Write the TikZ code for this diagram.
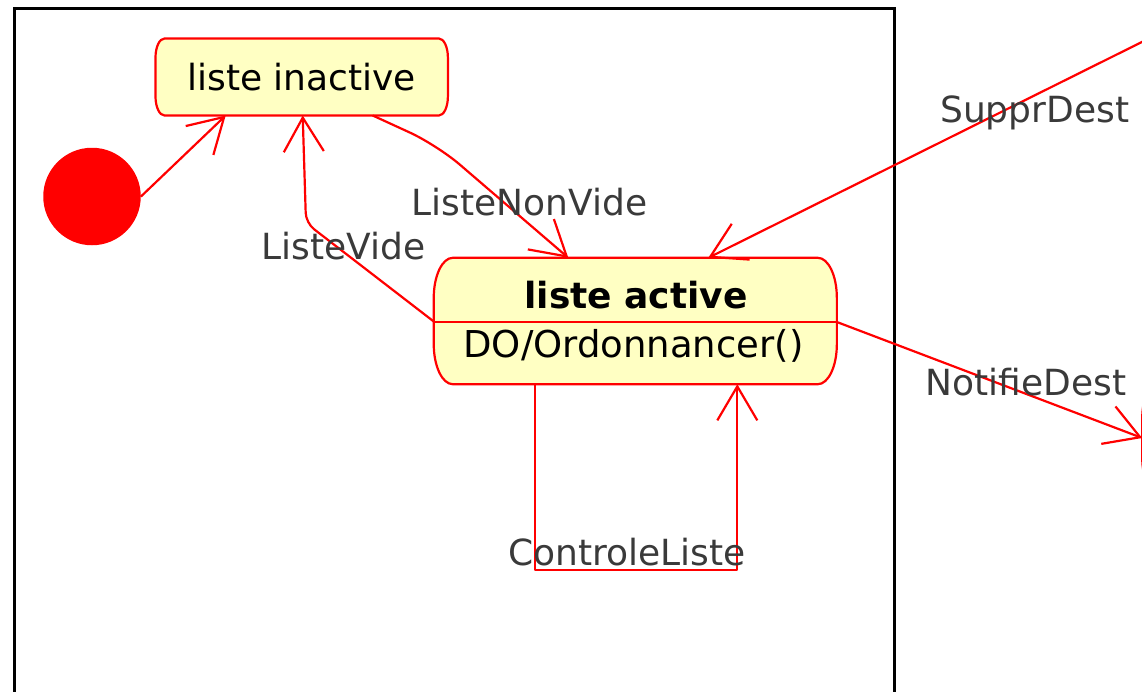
\documentclass[tikz,border=0pt]{standalone}
\usepackage{fontspec}
\setmainfont{DejaVu Sans}
\usetikzlibrary{arrows.meta,calc}

\definecolor{statefill}{RGB}{255,255,195}
\definecolor{labelink}{RGB}{58,58,58}

\tikzset{
  stateanchor/.style={rectangle, draw=none, fill=none, inner sep=0pt},
  stateedge/.style={draw=red, line width=2.2pt, fill=statefill},
  trans/.style={draw=red, line width=2.2pt, line join=round,
    -{Straight Barb[length=34pt,width=40pt,line width=2.2pt]}},
  statetext/.style={inner sep=0pt, text=black},
  translabel/.style={inner sep=0pt, anchor=base west, text=labelink},
  frameedge/.style={draw=black, line width=3pt},
}

% outline of a UML state: rectangle with elliptical corners
\newcommand\stateoutline[3]{%
  \path[stateedge] ([xshift=#2]#1.north west) -- ([xshift=-#2]#1.north east)
    arc[start angle=90, end angle=0, x radius=#2, y radius=#3]
    -- ([yshift=#3]#1.south east)
    arc[start angle=0, end angle=-90, x radius=#2, y radius=#3]
    -- ([xshift=#2]#1.south west)
    arc[start angle=-90, end angle=-180, x radius=#2, y radius=#3]
    -- ([yshift=-#3]#1.north west)
    arc[start angle=180, end angle=90, x radius=#2, y radius=#3] -- cycle;}

\begin{document}
\begin{tikzpicture}[x=1pt, y=-1pt, font=\fontsize{36}{43}\selectfont]
\useasboundingbox (0,0) rectangle (1142,691);
\fill[white] (0,0) rectangle (1142,691);
\clip (0,0) rectangle (1142,691);

% composite state boundary
\draw[frameedge] (14.7,720) -- (14.7,8) -- (894.5,8) -- (894.5,720);

% initial pseudo-state
\node[circle, fill=red, minimum size=97.5pt, inner sep=0pt] (init) at (92,196.5) {};

% state frames
\node[stateanchor, minimum width=292pt, minimum height=76.6pt] (inact) at (301.7,77) {};
\node[stateanchor, minimum width=402.7pt, minimum height=126pt] (act) at (635.3,321) {};
\node[stateanchor, minimum width=300pt, minimum height=118pt, anchor=west] (dest) at (1142.2,438) {};

\stateoutline{inact}{9pt}{19pt}
\stateoutline{act}{19pt}{40pt}
\stateoutline{dest}{19pt}{40pt}
\draw[red, line width=2.2pt] ([yshift=-1pt]act.west) -- ([yshift=-1pt]act.east);

% state texts
\node[statetext] (inactname) at (inact.center) {liste inactive};
\node[statetext, anchor=base, font=\fontsize{36}{43}\selectfont\bfseries] (actname) at (636,308) {liste active};
\node[statetext, anchor=base, font=\fontsize{37}{44}\selectfont] (actdo) at (633.5,357) {DO/Ordonnancer()};

% transitions
\coordinate (supsrc) at (1170,28);
\coordinate (nvbend) at (437,145);
\coordinate (vbend) at (306,223);
\coordinate (loopc) at (636,570);

\draw[trans] (init.east) -- ([xshift=-76pt]inact.south);
\draw[trans, rounded corners=30pt] ([xshift=71pt]inact.south) -- (nvbend) -- ([xshift=-67pt]act.north);
\draw[trans, rounded corners=10pt] ([yshift=-0.5pt]act.west) -- (vbend) -- ([xshift=1pt]inact.south);
\draw[trans] (supsrc) -- ([xshift=73pt]act.north);
\draw[trans] ([yshift=-1pt]act.east) -- (dest.west);
\draw[trans] ([xshift=-100pt]act.south) |- (loopc) -| ([xshift=102pt]act.south);

% transition labels
\node[translabel] (lblsuppr) at (940,122) {SupprDest};
\node[translabel] (lblnonvide) at (411.5,215) {ListeNonVide};
\node[translabel] (lblvide) at (261.5,259) {ListeVide};
\node[translabel] (lblnotif) at (925.5,395) {NotifieDest};
\node[translabel] (lblctrl) at (508,565) {ControleListe};
\end{tikzpicture}
\end{document}
